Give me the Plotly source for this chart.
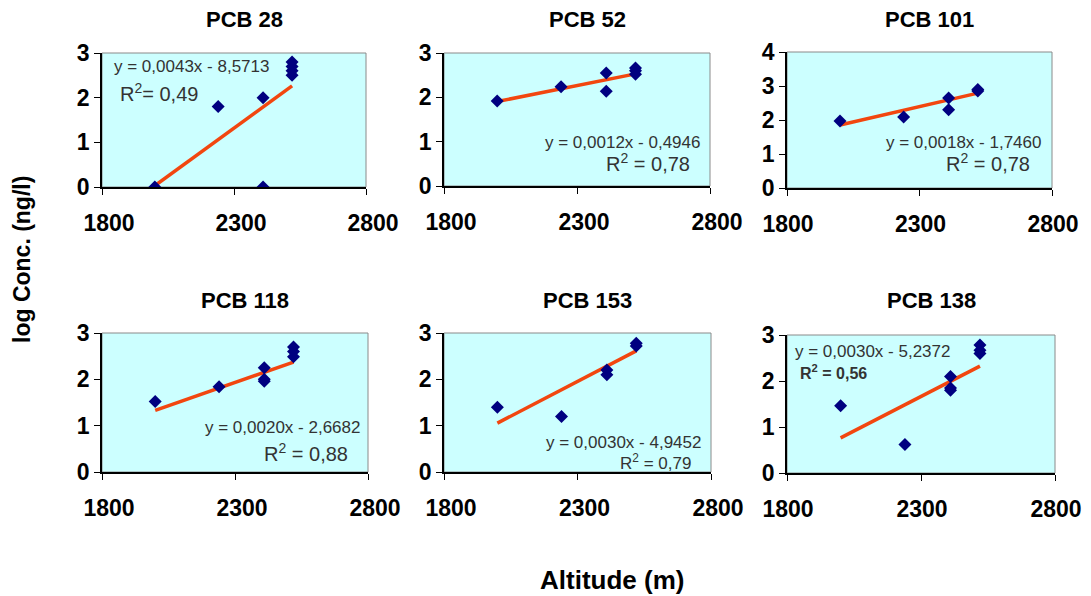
import plotly.graph_objects as go

W, H = 1091, 596
OFF = 8  # page body offset in px

titles = ["PCB 28", "PCB 52", "PCB 101", "PCB 118", "PCB 153", "PCB 138"]

alt_28 = [2000, 2240, 2410, 2410, 2520, 2520, 2520, 2520]
log_28 = [0.0, 1.8, 2.0, 0.0, 2.5, 2.6, 2.7, 2.8]
alt_52 = [2000, 2240, 2410, 2410, 2520, 2520, 2520]
log_52 = [1.92, 2.24, 2.55, 2.14, 2.52, 2.6, 2.66]
alt_101 = [2000, 2240, 2410, 2410, 2520, 2520]
log_101 = [1.97, 2.09, 2.65, 2.3, 2.85, 2.9]
alt_118 = [2000, 2240, 2410, 2410, 2410, 2520, 2520, 2520]
log_118 = [1.52, 1.84, 2.25, 2.0, 1.96, 2.7, 2.6, 2.49]
alt_153 = [2000, 2240, 2410, 2410, 2520, 2520]
log_153 = [1.4, 1.2, 2.2, 2.1, 2.72, 2.78]
alt_138 = [2000, 2240, 2410, 2410, 2410, 2520, 2520, 2520]
log_138 = [1.46, 0.62, 2.1, 1.8, 1.85, 2.78, 2.67, 2.6]

slopes = [0.0043, 0.0012, 0.0018, 0.0020, 0.0030, 0.0030]
intercepts = [-8.5713, -0.4946, -1.7460, -2.6682, -4.9452, -5.2372]
eq_texts = ["y = 0,0043x - 8,5713", "y = 0,0012x - 0,4946", "y = 0,0018x - 1,7460",
            "y = 0,0020x - 2,6682", "y = 0,0030x - 4,9452", "y = 0,0030x - 5,2372"]
r2_texts = ["0,49", "0,78", "0,78", "0,88", "0,79", "0,56"]

x_ticks = [1800, 2300, 2800]
y_max = [3, 3, 4, 3, 3, 3]

alts = [alt_28, alt_52, alt_101, alt_118, alt_153, alt_138]
logs = [log_28, log_52, log_101, log_118, log_153, log_138]

# pixel boxes for plot areas (left, right, top, bottom)
boxes = [(102, 366, 53, 187), (444, 710, 53, 186), (787, 1052, 52, 188),
         (102, 368, 333, 472), (444, 711, 333, 472), (787, 1055, 335, 473)]
label_shift = [7, 7, 1, 7, 7, 1]


def px(x):
    return (x - OFF) / W


def py(y):
    return 1 - (y - OFF) / H


BG = "#ccffff"
MARK = "#000080"
LINE = "#f2460f"
FONT = "Liberation Sans"

fig = go.Figure()
layout = dict(width=W, height=H, margin=dict(l=0, r=0, t=0, b=0, autoexpand=False), autosize=False,
              paper_bgcolor="white", plot_bgcolor=BG, showlegend=False)
annotations = []
shapes = []

for i in range(6):
    n = "" if i == 0 else str(i + 1)
    xa, ya = "x" + n, "y" + n
    L, R, T, B = boxes[i]
    xs = alts[i]
    x0, x1 = min(xs), max(xs)
    fig.add_trace(go.Scatter(x=[x0, x1], y=[slopes[i] * x0 + intercepts[i], slopes[i] * x1 + intercepts[i]],
                             mode="lines", xaxis=xa, yaxis=ya,
                             line=dict(color=LINE, width=3.5)))
    fig.add_trace(go.Scatter(x=xs, y=logs[i], mode="markers", xaxis=xa, yaxis=ya,
                             marker=dict(symbol="diamond", size=10, color=MARK)))
    layout["xaxis" + n] = dict(domain=[px(L), px(R)], range=[1800, 2800], tickvals=x_ticks,
                               anchor=ya, showgrid=False, zeroline=False, showline=True, automargin=False,
                               linecolor="black", linewidth=1.5, ticks="outside", ticklen=6,
                               tickcolor="black", ticklabelstandoff=9, ticklabelshift=label_shift[i],
                               tickfont=dict(family=FONT, size=23, color="black", weight="bold"))
    layout["yaxis" + n] = dict(domain=[py(B), py(T)], range=[0, y_max[i]], dtick=1,
                               anchor=xa, showgrid=False, zeroline=False, showline=True, automargin=False,
                               linecolor="black", linewidth=1.5, ticks="outside", ticklen=6,
                               tickcolor="black",
                               tickfont=dict(family=FONT, size=23, color="black", weight="bold"))
    shapes.append(dict(type="rect", xref=xa + " domain", yref=ya + " domain", x0=0, x1=1, y0=0, y1=1,
                       line=dict(color="#8a8a8a", width=1), layer="below"))
    ty = 20 if i < 3 else 300
    annotations.append(dict(text="<b>" + titles[i] + "</b>", x=px((L + R) / 2 + 10), y=py(ty),
                            xref="paper", yref="paper", showarrow=False, xanchor="center", yanchor="middle",
                            font=dict(family=FONT, size=22, color="black")))

# equation and R² labels (pixel positions)
eq_pos = [(112, 67, "left"), (702, 142, "right"), (1043, 142, "right"),
          (362, 427, "right"), (703, 442, "right"), (793, 351, "left")]
r2_pos = [(118, 92, "left", 20), (692, 163, "right", 20), (1032, 163, "right", 20),
          (350, 453, "right", 20), (693, 462, "right", 17), (798, 372, "left", 16)]
for i in range(6):
    ex, ey, ea = eq_pos[i]
    annotations.append(dict(text=eq_texts[i], x=px(ex), y=py(ey), xref="paper", yref="paper",
                            showarrow=False, xanchor=ea, yanchor="middle",
                            font=dict(family=FONT, size=17, color="#333333")))
    rx, ry, ra, rs = r2_pos[i]
    sep = "= " if i == 0 else " = "
    txt = "R<sup>2</sup>" + sep + r2_texts[i]
    if i == 5:
        txt = "<b>" + txt + "</b>"
    annotations.append(dict(text=txt, x=px(rx), y=py(ry), xref="paper", yref="paper",
                            showarrow=False, xanchor=ra, yanchor="middle",
                            font=dict(family=FONT, size=rs, color="#333333")))

annotations.append(dict(text="<b>log Conc. (ng/l)</b>", x=px(22), y=py(260), xref="paper", yref="paper",
                        showarrow=False, textangle=-90, xanchor="center", yanchor="middle",
                        font=dict(family=FONT, size=23, color="black")))
annotations.append(dict(text="<b>Altitude (m)</b>", x=px(612), y=py(580), xref="paper", yref="paper",
                        showarrow=False, xanchor="center", yanchor="middle",
                        font=dict(family=FONT, size=26, color="black")))

layout["annotations"] = annotations
layout["shapes"] = shapes
fig.update_layout(**layout)
fig.write_html("out.html")
